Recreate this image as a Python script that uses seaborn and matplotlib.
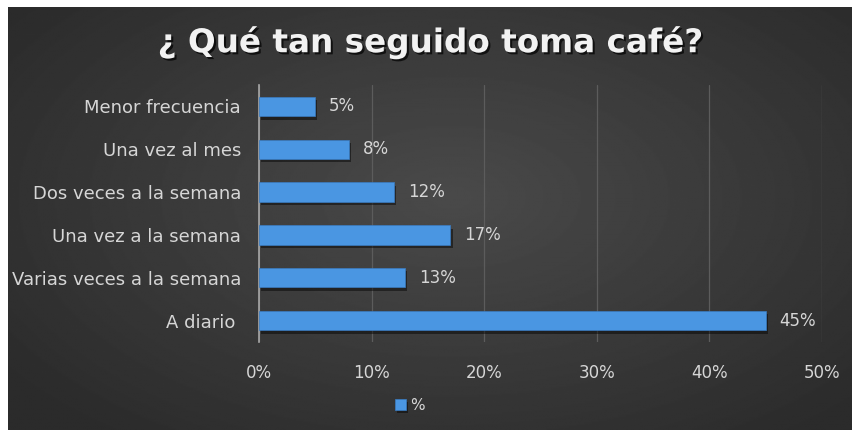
import numpy as np
import pandas as pd
import matplotlib
matplotlib.use("Agg")
import matplotlib.pyplot as plt
import matplotlib.patheffects as pe
import seaborn as sns

# Survey answers: how often coffee is drunk (share of respondents, %)
categories = [
    "Menor frecuencia",
    "Una vez al mes",
    "Dos veces a la semana",
    "Una vez a la semana",
    "Varias veces a la semana",
    "A diario ",
]
shares = [5, 8, 12, 17, 13, 45]
x_ticks = [0, 10, 20, 30, 40, 50]
title_text = "¿ Qué tan seguido toma café?"
legend_label = "%"

sns.set_theme(style="dark")
plt.rcParams["font.family"] = ["DejaVu Sans"]

df = pd.DataFrame({"categoria": categories, "valor": shares})

fig = plt.figure(figsize=(8.52, 4.30), dpi=100, facecolor="white")

# Dark radial-gradient backdrop of the chart panel
bg = fig.add_axes([8 / 852, 0, 1 - 8 / 852, 1 - 7 / 430])
yy, xx = np.mgrid[-1:1:300j, -1:1:600j]
r = np.sqrt(((xx - 0.05) / 1.0) ** 2 + ((yy + 0.1) / 1.1) ** 2)
shade = 0.29 - 0.12 * np.clip(r / 1.3, 0, 1)
bg.imshow(shade, cmap="gray", vmin=0, vmax=1, aspect="auto",
          extent=[0, 1, 0, 1], interpolation="bilinear")
bg.set_axis_off()

ax = fig.add_axes([259 / 852, 1 - 342 / 430, (822 - 259) / 852, (342 - 85) / 430])
ax.patch.set_alpha(0)

sns.barplot(data=df, x="valor", y="categoria", orient="h", color="#4a96e2",
            width=0.455, saturation=1, ax=ax, label=legend_label, zorder=3)

for bar in ax.patches:
    bar.set_edgecolor("#3a7cc2")
    bar.set_linewidth(0.5)
    bar.set_path_effects([pe.SimplePatchShadow(offset=(1.5, -2.5), shadow_rgbFace="black", alpha=0.45),
                          pe.Normal()])

text_col = "#d6d6d6"
for bar, v in zip(ax.patches, shares):
    ax.annotate(f"{v}%", xy=(bar.get_width(), bar.get_y() + bar.get_height() / 2),
                xytext=(10, 0), textcoords="offset points", va="center", ha="left",
                fontsize=12, color=text_col)

ax.set_xlim(0, 50)
ax.set_xticks(x_ticks)
ax.set_xticklabels([f"{t}%" for t in x_ticks])
ax.set_xlabel("")
ax.set_ylabel("")
ax.tick_params(axis="x", length=0, pad=16, labelsize=12, labelcolor=text_col)
ax.tick_params(axis="y", length=0, pad=13, labelsize=13, labelcolor=text_col)
ax.grid(axis="x", color="#5c5c5c", linewidth=0.9, zorder=0)
ax.grid(axis="y", visible=False)
for side in ["top", "right", "bottom"]:
    ax.spines[side].set_visible(False)
ax.spines["left"].set_color("#a8a8a8")
ax.spines["left"].set_linewidth(1.2)

leg = ax.legend(loc="center", bbox_to_anchor=(410 / 852, 1 - 405 / 430),
                bbox_transform=fig.transFigure, frameon=False,
                handlelength=0.7, handleheight=0.7, handletextpad=0.3, fontsize=11)
for t in leg.get_texts():
    t.set_color(text_col)

fig.text(0.505, 1 - 42 / 430, title_text, ha="center", va="center",
         fontsize=23.5, fontweight="bold", family=["DejaVu Sans"], color="#f2f2f2",
         path_effects=[pe.withSimplePatchShadow(offset=(1.5, -1.5), shadow_rgbFace="black", alpha=0.7)])

fig.savefig("out.png", dpi=100, facecolor="white")
